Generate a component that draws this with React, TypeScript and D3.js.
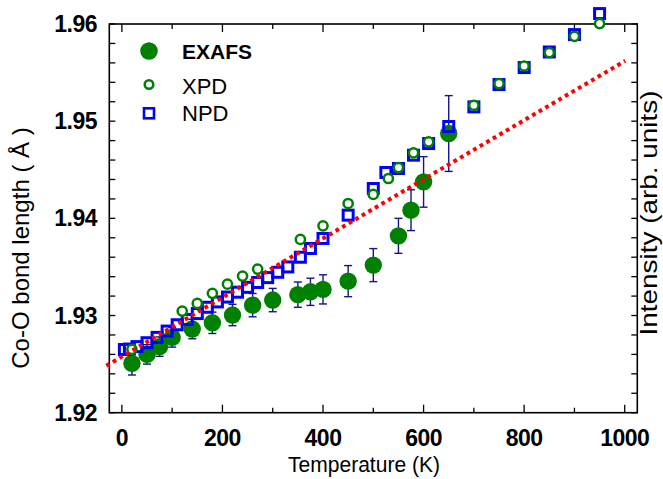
import React from "react";
import * as d3 from "d3";

// ---- data ----
const exafsT = [20, 50, 75, 100, 140, 180, 220, 260, 300, 350, 375, 400, 450, 500, 550, 575, 600, 650];
const exafsV = [1.92508, 1.9260, 1.9268, 1.92775, 1.92861, 1.92925, 1.93005, 1.93107, 1.93159, 1.93215, 1.93244, 1.93269, 1.93354, 1.93519, 1.9382, 1.94084, 1.94375, 1.94873];
const exafsErr = [0.0012, 0.001, 0.001, 0.001, 0.001, 0.0011, 0.0011, 0.0012, 0.0012, 0.0013, 0.0014, 0.0015, 0.0016, 0.0017, 0.0018, 0.0021, 0.0026, 0.0039];

const xpdT = [20, 120, 150, 180, 210, 240, 270, 355, 400, 450, 500, 530, 550, 580, 610, 700, 750, 800, 850, 900, 950];
const xpdV = [1.92652, 1.93046, 1.93125, 1.93228, 1.93323, 1.93406, 1.93478, 1.93783, 1.93923, 1.94153, 1.94246, 1.9441, 1.94523, 1.94674, 1.94787, 1.95164, 1.95387, 1.95568, 1.95706, 1.95873, 1.96004];

const npdT = [5, 15, 30, 50, 70, 90, 110, 130, 150, 170, 190, 210, 230, 250, 270, 290, 310, 330, 355, 375, 400, 450, 500, 525, 550, 580, 610, 650, 700, 750, 800, 850, 900, 950];
const npdV = [1.9265, 1.92655, 1.9268, 1.9272, 1.92775, 1.9284, 1.92905, 1.9296, 1.9302, 1.93085, 1.9314, 1.9319, 1.9324, 1.9329, 1.9334, 1.9339, 1.93445, 1.935, 1.936, 1.9369, 1.93793, 1.94033, 1.94307, 1.94472, 1.94513, 1.9465, 1.9477, 1.94945, 1.95147, 1.95377, 1.95552, 1.95712, 1.95891, 1.96107];

const fitT = [-31, 1001];
const fitV = [1.92483, 1.95621];

const xTickValues = [0, 100, 200, 300, 400, 500, 600, 700, 800, 900, 1000];
const xTickLabels = ["0", "200", "400", "600", "800", "1000"];
const yTickLabels = ["1.92", "1.93", "1.94", "1.95", "1.96"];

const legendLabels = ["EXAFS", "XPD", "NPD"];

// ---- layout ----
const W = 663, H = 479;
const L = 109.3, R = 637.3, T = 24, B = 412.7;
const FONT = "'Liberation Sans', Arial, Helvetica, sans-serif";
const GREEN = "#008000";
const BLUE = "#0000ff";
const NAVY = "#141487";

export default function App() {
  const x = d3.scaleLinear().domain([-25, 1025]).range([L, R]);
  const y = d3.scaleLinear().domain([1.92, 1.96]).range([B, T]);
  const yTicks = d3.range(0, 21).map((i) => 1.92 + i * 0.002);
  const line = d3.line<number>().x((d, i) => x(fitT[i])).y((d) => y(d));

  return (
    <svg width={W} height={H} style={{ position: "absolute", left: 0, top: 0, background: "#fff" }} fontFamily={FONT}>
      <rect x={0} y={0} width={W} height={H} fill="#fff" />

      {/* ticks */}
      {xTickValues.map((v) => {
        const major = v % 200 === 0;
        const len = major ? 8 : 5;
        return (
          <g key={"xt" + v} stroke="#000" strokeWidth={1.3}>
            <line x1={x(v)} x2={x(v)} y1={B} y2={B - len} />
            <line x1={x(v)} x2={x(v)} y1={T} y2={T + len} />
          </g>
        );
      })}
      {yTicks.map((v, i) => (
        <g key={"yt" + i} stroke="#000" strokeWidth={1.3}>
          <line x1={L} x2={L + 6} y1={y(v)} y2={y(v)} />
          <line x1={R} x2={R - 6} y1={y(v)} y2={y(v)} />
        </g>
      ))}

      {/* frame */}
      <rect x={L} y={T} width={R - L} height={B - T} fill="none" stroke="#000" strokeWidth={1.6} />

      {/* tick labels */}
      {xTickLabels.map((t) => (
        <text key={"xl" + t} x={x(+t)} y={446} textAnchor="middle" fontSize={23} fontWeight="bold" letterSpacing={-0.5}>
          {t}
        </text>
      ))}
      {yTickLabels.map((t) => (
        <text key={"yl" + t} x={97} y={y(+t) + 8} textAnchor="end" fontSize={23} fontWeight="bold" letterSpacing={-0.5}>
          {t}
        </text>
      ))}

      {/* axis titles */}
      <text x={364} y={472} textAnchor="middle" fontSize={22.5} textLength={152} lengthAdjust="spacingAndGlyphs">
        Temperature (K)
      </text>
      <text transform="translate(29,248) rotate(-90)" textAnchor="middle" fontSize={24}>
        Co-O bond length ( Å )
      </text>
      <text transform="translate(657,213) rotate(-90)" textAnchor="middle" fontSize={24} textLength={245} lengthAdjust="spacingAndGlyphs">
        Intensity (arb. units)
      </text>

      {/* EXAFS error bars */}
      {exafsT.map((t, i) => {
        const cx = x(t);
        const y1 = y(exafsV[i] - exafsErr[i]);
        const y2 = y(exafsV[i] + exafsErr[i]);
        return (
          <g key={"eb" + i} stroke={NAVY} strokeWidth={1.4}>
            <line x1={cx} x2={cx} y1={y1} y2={y2} />
            <line x1={cx - 4} x2={cx + 4} y1={y1} y2={y1} />
            <line x1={cx - 4} x2={cx + 4} y1={y2} y2={y2} />
          </g>
        );
      })}
      {/* EXAFS */}
      {exafsT.map((t, i) => (
        <circle key={"ex" + i} cx={x(t)} cy={y(exafsV[i])} r={8.7} fill={GREEN} />
      ))}
      {/* NPD */}
      {npdT.map((t, i) => (
        <rect key={"np" + i} x={x(t) - 5} y={y(npdV[i]) - 5} width={10} height={10} fill="none" stroke={BLUE} strokeWidth={3} />
      ))}
      {/* XPD */}
      {xpdT.map((t, i) => (
        <circle key={"xp" + i} cx={x(t)} cy={y(xpdV[i])} r={4.6} fill="#fff" stroke={GREEN} strokeWidth={2.5} />
      ))}
      {/* fit line */}
      <path d={line(fitV) || ""} fill="none" stroke="#ff0000" strokeWidth={4} strokeDasharray="3.8 3.8" />

      {/* legend */}
      <circle cx={149} cy={51} r={8.8} fill={GREEN} />
      <text x={182} y={58.5} fontSize={21} fontWeight="bold">{legendLabels[0]}</text>
      <circle cx={149} cy={84.5} r={4.3} fill="#fff" stroke={GREEN} strokeWidth={2.5} />
      <text x={182} y={93.5} fontSize={22}>{legendLabels[1]}</text>
      <rect x={144} y={108.3} width={10} height={10} fill="none" stroke={BLUE} strokeWidth={2.6} />
      <text x={182} y={120.5} fontSize={22}>{legendLabels[2]}</text>
    </svg>
  );
}
